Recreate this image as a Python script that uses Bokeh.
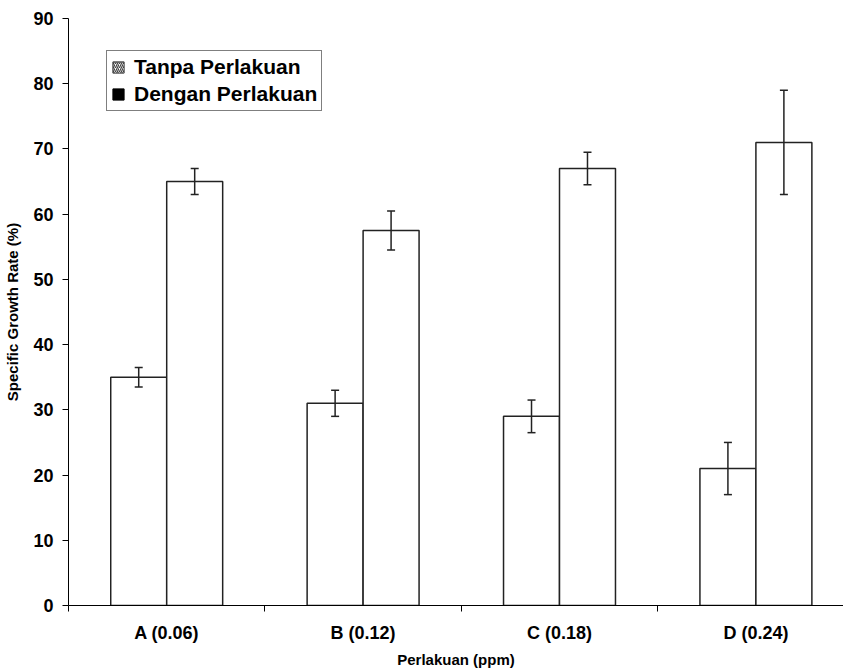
from bokeh.plotting import figure
from bokeh.models import (ColumnDataSource, Range1d, FixedTicker, Whisker, TeeHead,
                          Legend, LegendItem)
from bokeh.embed import file_html
from bokeh.resources import INLINE

categories = ["A (0.06)", "B (0.12)", "C (0.18)", "D (0.24)"]
tanpa = [35, 31, 29, 21]
tanpa_err = [1.5, 2, 2.5, 4]
dengan = [65, 57.5, 67, 71]
dengan_err = [2, 3, 2.5, 8]
y_ticks = [0, 10, 20, 30, 40, 50, 60, 70, 80, 90]

FONT = "Liberation Sans"
BAR_W = 0.285
NAN = float("nan")

idx = list(range(len(categories)))
x1 = [i + 0.5 - BAR_W / 2 for i in idx]
x2 = [i + 0.5 + BAR_W / 2 for i in idx]

src1 = ColumnDataSource(dict(x=x1, top=tanpa,
                             up=[v + e for v, e in zip(tanpa, tanpa_err)],
                             lo=[v - e for v, e in zip(tanpa, tanpa_err)]))
src2 = ColumnDataSource(dict(x=x2, top=dengan,
                             up=[v + e for v, e in zip(dengan, dengan_err)],
                             lo=[v - e for v, e in zip(dengan, dengan_err)]))

p = figure(width=843, height=670, output_backend="svg", toolbar_location=None,
           x_range=Range1d(0, 3.946), y_range=Range1d(0, 90),
           min_border_left=68, min_border_right=0, min_border_top=18, min_border_bottom=64)
p.outline_line_color = None
p.xgrid.visible = False
p.ygrid.visible = False
p.background_fill_color = "white"
p.border_fill_color = "white"

p.vbar(x="x", top="top", width=BAR_W, bottom=0, source=src1,
       fill_color="white", line_color="#222222", line_width=1.5)
p.vbar(x="x", top="top", width=BAR_W, bottom=0, source=src2,
       fill_color="white", line_color="#222222", line_width=1.5)

for src in (src1, src2):
    w = Whisker(base="x", upper="up", lower="lo", source=src,
                line_color="#222222", line_width=1.5, level="overlay",
                upper_head=TeeHead(size=8, line_color="#222222", line_width=1.5),
                lower_head=TeeHead(size=8, line_color="#222222", line_width=1.5))
    p.add_layout(w)

# legend swatches (renderers with no drawable data)
leg1 = ColumnDataSource(dict(x=[NAN], top=[NAN]))
leg2 = ColumnDataSource(dict(x=[NAN], top=[NAN]))
r_leg1 = p.vbar(x="x", top="top", width=BAR_W, source=leg1,
                fill_color="white", line_color="#333333", line_width=1,
                hatch_pattern="/", hatch_color="#444444", hatch_scale=4, hatch_weight=1.2)
r_leg2 = p.vbar(x="x", top="top", width=BAR_W, source=leg2,
                fill_color="black", line_color="black", line_width=1)

legend = Legend(items=[LegendItem(label="Tanpa Perlakuan", renderers=[r_leg1]),
                       LegendItem(label="Dengan Perlakuan", renderers=[r_leg2])],
                location=(38, 494), margin=0, padding=4, spacing=3,
                glyph_width=14, glyph_height=14, label_height=24, label_standoff=9,
                label_text_font=FONT, label_text_font_style="bold",
                label_text_font_size="21px", label_text_color="black",
                border_line_color="black", border_line_width=1,
                background_fill_color="white", background_fill_alpha=1)
p.add_layout(legend)

# y axis
ya = p.yaxis[0]
ya.ticker = FixedTicker(ticks=y_ticks)
ya.minor_tick_line_color = None
ya.major_tick_in = 0
ya.major_tick_out = 6
ya.major_tick_line_color = "black"
ya.axis_line_color = "black"
ya.major_label_text_font = FONT
ya.major_label_text_font_style = "bold"
ya.major_label_text_font_size = "18px"
ya.major_label_text_color = "black"
ya.major_label_standoff = 9
ya.axis_label = "Specific Growth Rate (%)"
ya.axis_label_text_font = FONT
ya.axis_label_text_font_style = "bold"
ya.axis_label_text_font_size = "15px"
ya.axis_label_text_color = "black"
ya.axis_label_standoff = 9

# x axis
xa = p.xaxis[0]
xa.ticker = FixedTicker(ticks=[i + 0.5 for i in idx],
                        minor_ticks=list(range(len(categories) + 1)))
xa.major_label_overrides = {i + 0.5: c for i, c in zip(idx, categories)}
xa.major_tick_line_color = None
xa.major_tick_in = 0
xa.major_tick_out = 0
xa.minor_tick_in = 0
xa.minor_tick_out = 6
xa.minor_tick_line_color = "black"
xa.axis_line_color = "black"
xa.major_label_text_font = FONT
xa.major_label_text_font_style = "bold"
xa.major_label_text_font_size = "18px"
xa.major_label_text_color = "black"
xa.major_label_standoff = 11
xa.axis_label = "Perlakuan (ppm)"
xa.axis_label_text_font = FONT
xa.axis_label_text_font_style = "bold"
xa.axis_label_text_font_size = "15px"
xa.axis_label_text_color = "black"
xa.axis_label_standoff = 5

open("out.html", "w").write(file_html(p, INLINE))
